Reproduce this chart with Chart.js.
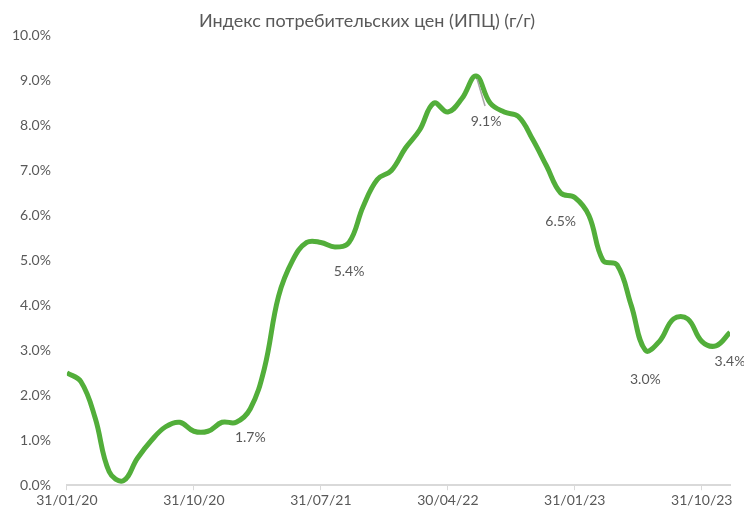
<!DOCTYPE html>
<html>
<head>
<meta charset="utf-8">
<script src="https://cdn.jsdelivr.net/npm/chart.js@4.4.1/dist/chart.umd.min.js"></script>
<style>
    html, body { margin: 0; padding: 0; background: #fff; }
    #wrap { width: 744px; height: 513px; }
</style>
</head>
<body>
<div id="wrap"><canvas id="cpiChart"></canvas></div>
<script>
// monthly CPI y/y, Jan 2020 .. Dec 2023
const cpiValues = [
    2.5, 2.3, 1.5, 0.3, 0.1, 0.6, 1.0, 1.3, 1.4, 1.2, 1.2, 1.4,
    1.4, 1.7, 2.6, 4.2, 5.0, 5.4, 5.4, 5.3, 5.4, 6.2, 6.8, 7.0,
    7.5, 7.9, 8.5, 8.3, 8.6, 9.1, 8.5, 8.3, 8.2, 7.7, 7.1, 6.5,
    6.4, 6.0, 5.0, 4.9, 4.0, 3.0, 3.2, 3.7, 3.7, 3.2, 3.1, 3.4
];
const tickLabels = { 0: '31/01/20', 9: '31/10/20', 18: '31/07/21', 27: '30/04/22', 36: '31/01/23', 45: '31/10/23' };
const labelledMonths = [13, 20, 29, 35, 41, 47];

const points = cpiValues.map((v, i) => ({ x: i, y: v }));
const textColor = '#595959';
const fontFamily = "Lato, 'Noto Sans', sans-serif";

const pointLabels = {
    id: 'pointLabels',
    afterDatasetsDraw(chart) {
        const ctx = chart.ctx;
        const meta = chart.getDatasetMeta(0);
        ctx.save();
        ctx.font = '14px ' + fontFamily;
        ctx.fillStyle = textColor;
        ctx.textAlign = 'center';
        ctx.textBaseline = 'middle';
        labelledMonths.forEach(i => {
            const p = meta.data[i];
            let dx = 0, dy = 29;
            if (i === 29) {
                // peak label sits further down with a leader line
                dx = 10; dy = 45;
                ctx.strokeStyle = '#a6a6a6';
                ctx.lineWidth = 1.5;
                ctx.beginPath();
                ctx.moveTo(p.x + 1, p.y + 3);
                ctx.lineTo(p.x + 9, p.y + 30);
                ctx.stroke();
            }
            ctx.fillText(cpiValues[i].toFixed(1) + '%', p.x + dx, p.y + dy);
        });
        ctx.restore();
    }
};

new Chart(document.getElementById('cpiChart'), {
    type: 'line',
    data: {
        datasets: [{
            data: points,
            borderColor: '#52AE3A',
            borderWidth: 5,
            pointRadius: 0,
            tension: 0.4,
            fill: false
        }]
    },
    options: {
        responsive: true,
        maintainAspectRatio: false,
        animation: false,
        layout: { padding: { left: 4, right: 14, top: 6, bottom: 2 } },
        plugins: {
            legend: { display: false },
            tooltip: { enabled: false },
            title: {
                display: true,
                text: 'Индекс потребительских цен (ИПЦ) (г/г)',
                color: textColor,
                font: { family: fontFamily, size: 18, weight: 'normal' },
                padding: { top: 4, bottom: 4 }
            }
        },
        scales: {
            x: {
                type: 'linear',
                min: 0,
                max: cpiValues.length - 1,
                grid: { drawOnChartArea: false, color: '#d9d9d9', tickLength: 5 },
                border: { color: '#d9d9d9', width: 2 },
                afterBuildTicks(axis) {
                    axis.ticks = Object.keys(tickLabels).map(k => ({ value: Number(k) }));
                },
                ticks: {
                    color: textColor,
                    font: { family: fontFamily, size: 14 },
                    maxRotation: 0,
                    autoSkip: false,
                    padding: 2,
                    callback: v => tickLabels[v] || ''
                }
            },
            y: {
                min: 0,
                max: 10,
                grid: { display: false },
                border: { display: false },
                ticks: {
                    stepSize: 1,
                    color: textColor,
                    font: { family: fontFamily, size: 14 },
                    padding: 8,
                    callback: v => v.toFixed(1) + '%'
                }
            }
        }
    },
    plugins: [pointLabels]
});
</script>
</body>
</html>
